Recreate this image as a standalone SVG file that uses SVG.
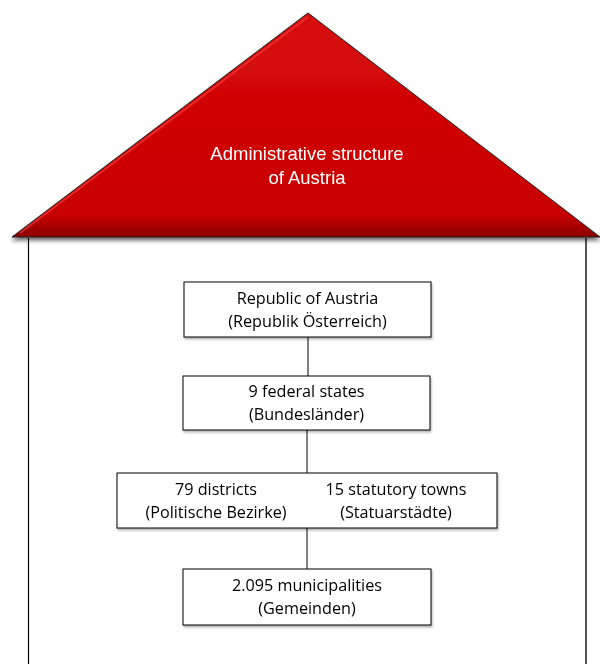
<svg xmlns="http://www.w3.org/2000/svg" width="600" height="664" viewBox="0 0 600 664">
<defs>
<filter id="sh" x="-10%" y="-10%" width="120%" height="130%">
<feGaussianBlur in="SourceAlpha" stdDeviation="2"/>
<feOffset dx="0" dy="3" result="b"/>
<feComponentTransfer><feFuncA type="linear" slope="0.6"/></feComponentTransfer>
<feMerge><feMergeNode/><feMergeNode in="SourceGraphic"/></feMerge>
</filter>
<linearGradient id="rg" x1="0" y1="0" x2="0" y2="1">
<stop offset="0" stop-color="#d80a0a"/>
<stop offset="0.9" stop-color="#c80000"/>
<stop offset="1" stop-color="#8a0000"/>
</linearGradient>
<filter id="bs" x="-5%" y="-5%" width="110%" height="120%">
<feGaussianBlur in="SourceAlpha" stdDeviation="1"/>
<feOffset dx="1" dy="2" result="b"/>
<feComponentTransfer><feFuncA type="linear" slope="0.3"/></feComponentTransfer>
<feMerge><feMergeNode/><feMergeNode in="SourceGraphic"/></feMerge>
</filter>
</defs>
<style>
.box{fill:#fff;stroke:#000;stroke-width:1}
.t{font-family:"Open Sans","Noto Sans","Liberation Sans",sans-serif;font-size:16.2px;fill:#000;text-anchor:middle}
.w{font-family:"Liberation Sans",Arial,sans-serif;font-size:18.5px;fill:#fff;text-anchor:middle}
.c{stroke:#000;stroke-width:1;fill:none}
</style>
<rect width="600" height="664" fill="#fff"/>
<g id="walls">
<line x1="28.5" y1="238" x2="28.5" y2="664" stroke="#000" stroke-width="1.2"/>
<line x1="586" y1="238" x2="586" y2="664" stroke="#555" stroke-width="2"/>
</g>
<g id="roof" filter="url(#sh)">
<polygon points="12,237 308,13 600,237" fill="url(#rg)" stroke="#222" stroke-width="1"/>
<polyline points="20,233 308,17" fill="none" stroke="#ff5050" stroke-opacity="0.5" stroke-width="2"/>
<text class="w" x="307" y="160">Administrative structure</text>
<text class="w" x="307" y="184">of Austria</text>
</g>
<g id="connectors">
<line class="c" x1="308" y1="337" x2="308" y2="376"/>
<line class="c" x1="307" y1="430" x2="307" y2="473"/>
<line class="c" x1="307" y1="528" x2="307" y2="569"/>
</g>
<g id="n1" filter="url(#bs)">
<rect class="box" x="184" y="282" width="247" height="55"/>
<text class="t" x="307.5" y="304">Republic of Austria</text>
<text class="t" x="307.5" y="327">(Republik Österreich)</text>
</g>
<g id="n2" filter="url(#bs)">
<rect class="box" x="183" y="376" width="247" height="54"/>
<text class="t" x="306.5" y="397">9 federal states</text>
<text class="t" x="306.5" y="420">(Bundesländer)</text>
</g>
<g id="n3" filter="url(#bs)">
<rect class="box" x="117" y="473" width="380" height="55"/>
<text class="t" x="216" y="495">79 districts</text>
<text class="t" x="216" y="518">(Politische Bezirke)</text>
<text class="t" x="396" y="495">15 statutory towns</text>
<text class="t" x="396" y="518">(Statuarstädte)</text>
</g>
<g id="n4" filter="url(#bs)">
<rect class="box" x="183" y="569" width="248" height="56"/>
<text class="t" x="307" y="591">2.095 municipalities</text>
<text class="t" x="307" y="614">(Gemeinden)</text>
</g>
</svg>
